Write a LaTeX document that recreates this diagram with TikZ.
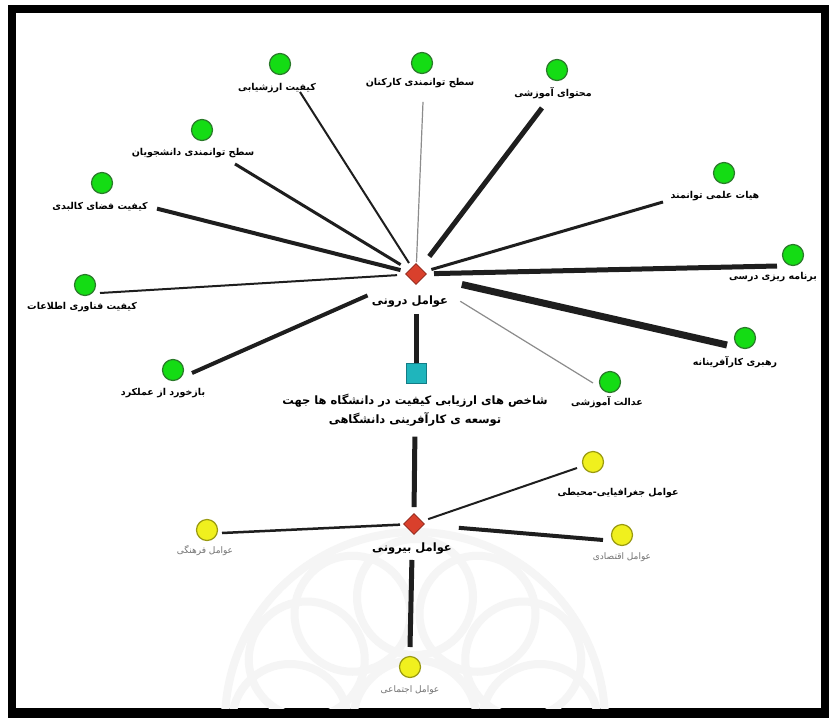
\documentclass[tikz,border=0pt]{standalone}
\usepackage{fontspec}
\usepackage{xcolor}
\usetikzlibrary{calc}
\usetikzlibrary{positioning,shapes.geometric}
\TeXXeTstate=1
\newfontfamily\fa[Script=Arabic]{DejaVu Sans}
\definecolor{indgreen}{HTML}{14DC14}
\definecolor{indgreenline}{HTML}{2A7A2A}
\definecolor{extyellow}{HTML}{F0F01E}
\definecolor{extyellowline}{HTML}{9A9A10}
\definecolor{factred}{HTML}{D9402C}
\definecolor{factredline}{HTML}{8C2418}
\definecolor{rootteal}{HTML}{1FB5BC}
\definecolor{roottealline}{HTML}{137C86}
\definecolor{wirecol}{HTML}{1E1E1E}
\newcommand{\fat}[1]{{\fa\bfseries\beginR #1\endR}}
\newcommand{\fal}[1]{{\fa\beginR #1\endR}}
\tikzset{
  ind/.style={circle, fill=indgreen, draw=indgreenline, line width=1.2pt, minimum size=21pt, inner sep=0pt},
  ext/.style={circle, fill=extyellow, draw=extyellowline, line width=1.2pt, minimum size=21pt, inner sep=0pt},
  factor/.style={diamond, fill=factred, draw=factredline, line width=0.8pt, minimum size=21pt, inner sep=0pt},
  rootbox/.style={rectangle, fill=rootteal, draw=roottealline, line width=0.8pt, minimum size=20pt, inner sep=0pt},
  lab/.style={font=\fontsize{9.5}{11}\selectfont, inner sep=1pt},
  lablight/.style={font=\fontsize{9}{11}\selectfont, text=black!55, inner sep=1pt},
  wire/.style={draw=wirecol},
  thinwire/.style={draw=black!45, line width=1.2pt},
}
\begin{document}
\begin{tikzpicture}[x=1pt,y=-1pt]
\useasboundingbox (0,0) rectangle (831,724);
% frame
\fill[black] (8,5) rectangle (829,718);
\fill[white] (16,13) rectangle (821,708);
% watermark
\begin{scope}
\clip (16,13) rectangle (821,708);
\foreach \a in {0,30,...,180}
  \draw[black!4, line width=8pt] ($(415,722)+(-\a:125)$) circle (58);
\draw[black!4, line width=8pt] (415,722) circle (190);
\draw[black!4, line width=8pt] (415,722) circle (62);
\end{scope}

% internal factors
\node[factor] (D1) at (416,274) {};
\node[lab, font=\fontsize{11.5}{13}\selectfont] (din) at (410,302) {\fat{عوامل درونی}};

\node[ind] (g1) at (280,64) {};
\node[lab] (l1) at (277,88) {\fat{کیفیت ارزشیابی}};
\node[ind] (g2) at (422,63) {};
\node[lab] (l2) at (420,83) {\fat{سطح توانمندی کارکنان}};
\node[ind] (g3) at (557,70) {};
\node[lab] (l3) at (553,93) {\fat{محتوای آموزشی}};
\node[ind] (g4) at (202,130) {};
\node[lab] (l4) at (193,153) {\fat{سطح توانمندی دانشجویان}};
\node[ind] (g5) at (102,183) {};
\node[lab] (l5) at (100,207) {\fat{کیفیت فضای کالبدی}};
\node[ind] (g6) at (724,173) {};
\node[lab] (l6) at (715,196) {\fat{هیات علمی توانمند}};
\node[ind] (g7) at (793,255) {};
\node[lab] (l7) at (773,277) {\fat{برنامه ریزی درسی}};
\node[ind] (g8) at (85,285) {};
\node[lab] (l8) at (82,307) {\fat{کیفیت فناوری اطلاعات}};
\node[ind] (g9) at (745,338) {};
\node[lab] (l9) at (735,362) {\fat{رهبری کارآفرینانه}};
\node[ind] (g10) at (173,370) {};
\node[lab] (l10) at (163,393) {\fat{بازخورد از عملکرد}};
\node[ind] (g11) at (610,382) {};
\node[lab] (l11) at (607,402) {\fat{عدالت آموزشی}};

\draw[wire, line width=2pt, shorten <=13pt] (D1.center) -- ($(l1.south)+(23,-2)$);
\draw[thinwire, shorten <=12pt] (D1.center) -- ($(l2.south)+(3,13)$);
\draw[wire, line width=5pt, shorten <=22pt] (D1.center) -- ($(l3.south)+(-11,8)$);
\draw[wire, line width=3pt, shorten <=18pt] (D1.center) -- ($(l4.south)+(42,5)$);
\draw[wire, line width=4pt, shorten <=16pt] (D1.center) -- ($(l5.south)+(57,-4)$);
\draw[wire, line width=3pt, shorten <=16pt] (D1.center) -- ($(l6.south)+(-52,0)$);
\draw[wire, line width=5pt, shorten <=18pt] (D1.center) -- ($(g7)+(-16,11)$);
\draw[wire, line width=2pt, shorten <=19pt] (D1.center) -- ($(g8)+(15,8)$);
\draw[wire, line width=7pt, shorten <=47pt] (D1.center) -- ($(g9)+(-18,7)$);
\draw[wire, line width=4pt, shorten <=53pt] (D1.center) -- ($(g10)+(19,3)$);
\draw[thinwire, shorten <=52pt] (D1.center) -- ($(g11)+(-17,1)$);

% root
\node[rootbox] (sq) at (416,373) {};
\node[lab, font=\fontsize{11.5}{19.5}\selectfont, align=center] (ctr) at (415,410)
  {\fat{شاخص های ارزیابی کیفیت در دانشگاه ها جهت}\\\fat{توسعه ی کارآفرینی دانشگاهی}};
\draw[wire, line width=5pt, shorten <=5pt] (sq.north |- din.south) -- (sq.north);

% external factors
\node[factor] (D2) at (414,524) {};
\node[lab, font=\fontsize{11.5}{13}\selectfont] (bir) at (412,549) {\fat{عوامل بیرونی}};
\draw[wire, line width=5pt, shorten <=9pt, shorten >=6pt] (ctr.south) -- (D2.north);

\node[ext] (y1) at (593,462) {};
\node[lab] (m1) at (618,493) {\fat{عوامل جغرافیایی-محیطی}};
\node[ext] (y2) at (207,530) {};
\node[lablight] (m2) at (205,551) {\fal{عوامل فرهنگی}};
\node[ext] (y3) at (622,535) {};
\node[lablight] (m3) at (622,557) {\fal{عوامل اقتصادی}};
\node[ext] (y4) at (410,667) {};
\node[lablight] (m4) at (410,690) {\fal{عوامل اجتماعی}};

\draw[wire, line width=2pt, shorten <=15pt] (D2.center) -- ($(y1)+(-16,6)$);
\draw[wire, line width=2.5pt, shorten <=14pt] (D2.center) -- ($(y2)+(15,3)$);
\draw[wire, line width=4pt, shorten <=45pt] (D2.center) -- ($(y3)+(-19,5)$);
\draw[wire, line width=5pt, shorten <=4pt] (bir.south) -- ($(y4)+(0,-20)$);
\end{tikzpicture}
\end{document}
